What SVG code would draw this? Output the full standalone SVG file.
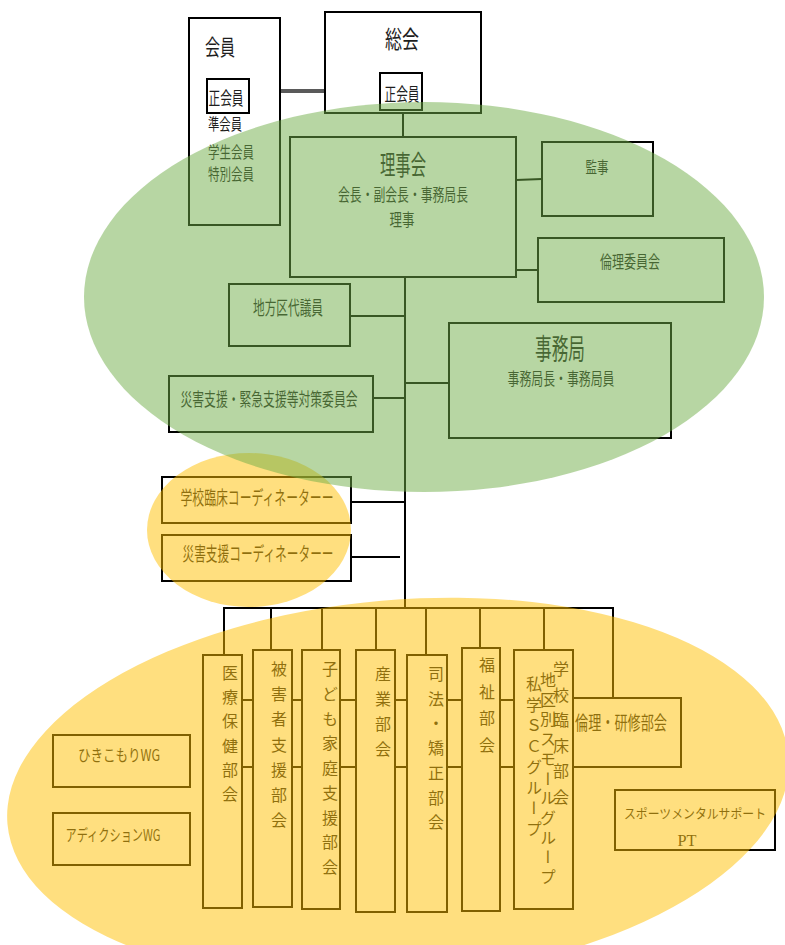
<svg xmlns="http://www.w3.org/2000/svg" width="785" height="945" viewBox="0 0 785 945">
  <style>
    .box { fill: #ffffff; stroke: #000000; stroke-width: 2; }
    .ln { stroke: #000000; stroke-width: 2; fill: none; }
    .t { font-family: "Noto Sans CJK JP", "Noto Sans CJK SC", sans-serif; fill: #1e1e1e; dominant-baseline: central; text-anchor: middle; }
    .ts { text-anchor: start; }
    .v { font-family: "Noto Sans CJK JP", "Noto Sans CJK SC", sans-serif; fill: #1e1e1e; writing-mode: vertical-rl; font-size: 16px; }
    .serif { font-family: "Liberation Serif", serif; }
    .green { fill: #70AD47; opacity: 0.5; }
    .gold { fill: #FFC000; opacity: 0.5; }
  </style>
  <rect width="785" height="945" fill="#ffffff"/>

  <!-- connectors -->
  <g id="connectors">
    <line x1="249" y1="91" x2="380" y2="91" stroke="#5a5a5a" stroke-width="4"/>
    <line class="ln" x1="403" y1="110" x2="403" y2="137" stroke-width="1.6"/>
    <line class="ln" x1="405" y1="277" x2="405" y2="608" stroke-width="1.6"/>
    <line class="ln" x1="516" y1="180" x2="542" y2="179" stroke-width="2.5"/>
    <line class="ln" x1="516" y1="270" x2="538" y2="270" stroke-width="2.5"/>
    <line class="ln" x1="350" y1="316" x2="405" y2="316"/>
    <line class="ln" x1="405" y1="383" x2="449" y2="383"/>
    <line class="ln" x1="373" y1="398" x2="405" y2="398" stroke-width="2.5"/>
    <line class="ln" x1="351" y1="502" x2="406" y2="502" stroke-width="2.5"/>
    <line class="ln" x1="351" y1="557" x2="400" y2="557" stroke-width="2.5"/>
    <!-- bus to the sections -->
    <line class="ln" x1="223" y1="608" x2="614" y2="608" stroke-width="2.5"/>
    <line class="ln" x1="224" y1="608" x2="224" y2="655"/>
    <line class="ln" x1="271" y1="608" x2="271" y2="650"/>
    <line class="ln" x1="322" y1="608" x2="322" y2="650"/>
    <line class="ln" x1="376" y1="608" x2="376" y2="650"/>
    <line class="ln" x1="426" y1="608" x2="426" y2="655"/>
    <line class="ln" x1="480" y1="608" x2="480" y2="648"/>
    <line class="ln" x1="544" y1="608" x2="544" y2="650"/>
    <line class="ln" x1="613" y1="608" x2="613" y2="698"/>
    <!-- cross ties between sections -->
    <line class="ln" x1="242" y1="700" x2="573" y2="700" stroke-width="2.5"/>
    <line class="ln" x1="242" y1="767" x2="573" y2="767" stroke-width="2.5"/>
  </g>

  <g id="kaiin">
    <rect class="box" x="189" y="18" width="91" height="207"/>
    <text class="t ts" x="205" y="45" font-size="22" textLength="30" lengthAdjust="spacingAndGlyphs">会員</text>
    <text class="t ts" x="208" y="123" font-size="16" textLength="34" lengthAdjust="spacingAndGlyphs">準会員</text>
    <text class="t ts" x="208" y="151" font-size="16" textLength="46" lengthAdjust="spacingAndGlyphs">学生会員</text>
    <text class="t ts" x="208" y="173" font-size="16" textLength="46" lengthAdjust="spacingAndGlyphs">特別会員</text>
  </g>
  <g id="kaiin-sei">
    <rect class="box" x="207" y="79" width="42" height="34"/>
    <text class="t" x="226" y="97" font-size="18" textLength="35" lengthAdjust="spacingAndGlyphs">正会員</text>
  </g>
  <g id="soukai">
    <rect class="box" x="325" y="12" width="156" height="101"/>
    <text class="t" x="402" y="37" font-size="24" textLength="34" lengthAdjust="spacingAndGlyphs">総会</text>
  </g>
  <g id="soukai-sei">
    <rect class="box" x="380" y="73" width="42" height="37"/>
    <text class="t" x="402" y="93" font-size="18" textLength="35" lengthAdjust="spacingAndGlyphs">正会員</text>
  </g>
  <g id="rijikai">
    <rect class="box" x="290" y="137" width="226" height="140"/>
    <text class="t" x="403" y="163" font-size="27" textLength="46" lengthAdjust="spacingAndGlyphs">理事会</text>
    <text class="t" x="403" y="193" font-size="17" textLength="130" lengthAdjust="spacingAndGlyphs">会長・副会長・事務局長</text>
    <text class="t" x="402" y="218" font-size="17" textLength="25" lengthAdjust="spacingAndGlyphs">理事</text>
  </g>
  <g id="kanji">
    <rect class="box" x="542" y="142" width="111" height="74"/>
    <text class="t" x="597" y="166" font-size="16" textLength="23" lengthAdjust="spacingAndGlyphs">監事</text>
  </g>
  <g id="rinri-iinkai">
    <rect class="box" x="538" y="238" width="186" height="64"/>
    <text class="t" x="630" y="260" font-size="17" textLength="60" lengthAdjust="spacingAndGlyphs">倫理委員会</text>
  </g>
  <g id="chihouku">
    <rect class="box" x="229" y="284" width="121" height="62"/>
    <text class="t" x="288" y="306" font-size="19" textLength="70" lengthAdjust="spacingAndGlyphs">地方区代議員</text>
  </g>
  <g id="jimukyoku">
    <rect class="box" x="449" y="323" width="222" height="115"/>
    <text class="t" x="560" y="347" font-size="29" textLength="50" lengthAdjust="spacingAndGlyphs">事務局</text>
    <text class="t" x="561" y="377" font-size="17" textLength="107" lengthAdjust="spacingAndGlyphs">事務局長・事務局員</text>
  </g>
  <g id="saigai-iinkai">
    <rect class="box" x="169" y="376" width="204" height="56"/>
    <text class="t" x="269" y="398" font-size="18" textLength="177" lengthAdjust="spacingAndGlyphs">災害支援・緊急支援等対策委員会</text>
  </g>
  <g id="coord-school">
    <rect class="box" x="162" y="477" width="189" height="46"/>
    <text class="t" x="257" y="496" font-size="19" textLength="153" lengthAdjust="spacingAndGlyphs">学校臨床コーディネーターー</text>
  </g>
  <g id="coord-disaster">
    <rect class="box" x="162" y="535" width="189" height="46"/>
    <text class="t" x="258" y="552" font-size="19" textLength="151" lengthAdjust="spacingAndGlyphs">災害支援コーディネーターー</text>
  </g>
  <g id="wg-hikikomori">
    <rect class="box" x="53" y="735" width="137" height="52"/>
    <text class="t" x="119" y="754" font-size="16" textLength="82" lengthAdjust="spacingAndGlyphs">ひきこもりWG</text>
  </g>
  <g id="wg-addiction">
    <rect class="box" x="53" y="813" width="137" height="52"/>
    <text class="t" x="113" y="834" font-size="16" textLength="95" lengthAdjust="spacingAndGlyphs">アディクションWG</text>
  </g>
  <g id="bukai-iryou">
    <rect class="box" x="203" y="655" width="39" height="253"/>
    <text class="v" x="230" y="665 689.2 713.4 737.6 761.8 786">医療保健部会</text>
  </g>
  <g id="bukai-higaisha">
    <rect class="box" x="253" y="650" width="39" height="257"/>
    <text class="v" x="279" y="661 686.2 711.4 736.6 761.8 787 812.2">被害者支援部会</text>
  </g>
  <g id="bukai-kodomo">
    <rect class="box" x="302" y="650" width="38" height="259"/>
    <text class="v" x="330" y="661 685.75 710.5 735.25 760 784.75 809.5 834.25 859">子ども家庭支援部会</text>
  </g>
  <g id="bukai-sangyou">
    <rect class="box" x="356" y="650" width="39" height="262"/>
    <text class="v" x="383" y="666 691 716 741">産業部会</text>
  </g>
  <g id="bukai-shihou">
    <rect class="box" x="407" y="655" width="40" height="257"/>
    <text class="v" x="436" y="666 690.7 715.4 740.1 764.8 789.5 814.2">司法・矯正部会</text>
  </g>
  <g id="bukai-fukushi">
    <rect class="box" x="462" y="648" width="38" height="263"/>
    <text class="v" x="487" y="657 683.7 710.4 737.1">福祉部会</text>
  </g>
  <g id="bukai-gakkou">
    <rect class="box" x="514" y="650" width="59" height="259"/>
    <text class="v" x="561" y="661 686.6 712.2 737.8 763.4 789" font-size="17">学校臨床部会</text>
    <text class="v" x="548" y="672 691.7 711.4 731.1 750.8 770.5 790.2 809.9 829.6 849.3 869" font-size="13">地区別スモールグループ</text>
    <text class="v" x="534" y="676 696.7 717.4 738.1 758.8 779.5 800.2 820.9" font-size="13">私学ＳＣグループ</text>
  </g>
  <g id="bukai-rinri">
    <rect class="box" x="573" y="698" width="108" height="69"/>
    <text class="t" x="621" y="721" font-size="19" textLength="92" lengthAdjust="spacingAndGlyphs">倫理・研修部会</text>
  </g>
  <g id="pt-sports">
    <rect class="box" x="615" y="790" width="160" height="60"/>
    <text class="t" x="695" y="812" font-size="13" textLength="142" lengthAdjust="spacingAndGlyphs">スポーツメンタルサポート</text>
    <text class="t serif" x="687" y="840" font-size="17" textLength="19" lengthAdjust="spacingAndGlyphs">PT</text>
  </g>

  <!-- translucent group areas laid over the chart -->
  <g id="areas">
    <ellipse class="gold" cx="249" cy="530" rx="102" ry="77"/>
    <ellipse class="green" cx="424" cy="297" rx="340" ry="195"/>
    <ellipse class="gold" cx="398" cy="790" rx="392" ry="190" transform="rotate(-5 398 790)"/>
  </g>
</svg>
